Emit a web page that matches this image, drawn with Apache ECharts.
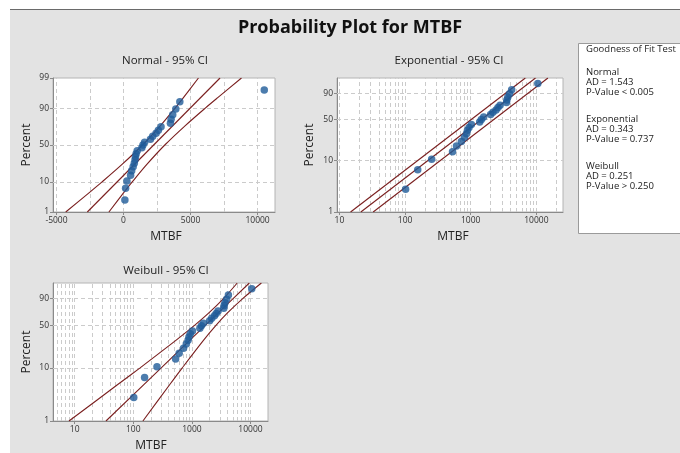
<!DOCTYPE html>
<html><head><meta charset="utf-8">
<script src="https://cdn.jsdelivr.net/npm/echarts@6/dist/echarts.min.js"></script>
<style>html,body{margin:0;padding:0;background:#fff}#c{width:680px;height:453px}</style>
</head><body><div id="c"></div>
<script>
// ---------------- data ----------------
const mtbf = [102, 156, 254, 528, 607, 720, 803, 861, 891, 942, 1023, 1368, 1452, 1574, 2009, 2180, 2430, 2600, 2800, 3500, 3550, 3670, 3900, 4200, 10500];
const percent = [2.8, 6.7, 10.6, 14.6, 18.5, 22.4, 26.4, 30.3, 34.3, 38.2, 42.1, 46.1, 50.0, 53.9, 57.9, 61.8, 65.7, 69.7, 73.6, 77.6, 81.5, 85.4, 89.4, 93.3, 97.2];

// fitted lines and 95% CI bands: [MTBF, percent]
const normalFit  = [[-2700, 1], [7200, 99]];
const normalLow  = [[-4310, 1], [-2530, 5], [-1600, 10], [-110, 25], [1420, 50], [2760, 75], [3850, 90], [4470, 95], [5590, 99]];
const normalHigh = [[-1090, 1], [30, 5], [650, 10], [1740, 25], [3080, 50], [4610, 75], [6100, 90], [7030, 95], [8800, 99]];
const expFit  = [[21.2, 1], [9690, 99]];
const expLow  = [[14.8, 1], [6790, 99]];
const expHigh = [[32.7, 1], [14980, 99]];
const weiFit  = [[34.2, 1], [153, 5], [297, 10], [908, 30], [1675, 50], [2780, 70], [5050, 90], [9550, 99]];
const weiLow  = [[8.0, 1], [55, 5], [129, 10], [527, 30], [1097, 50], [1928, 70], [3459, 90], [5943, 99]];
const weiHigh = [[146, 1], [423, 5], [681, 10], [1563, 30], [2555, 50], [4011, 70], [7362, 90], [15350, 99]];

// tick labels
const normalPctTicks = [1, 10, 50, 90, 99];
const smallPctTicks = [1, 10, 50, 90];
const normalXTicks = [-5000, 0, 5000, 10000];
const logXTicks = [10, 100, 1000, 10000];
const pctGrid = [10, 50, 90];
const normalXGrid = [-5000, -2500, 0, 2500, 5000, 7500, 10000];
const logGrid = [5,6,7,8,9,10,20,30,40,50,60,70,80,90,100,200,300,400,500,600,700,800,900,1000,2000,3000,4000,5000,6000,7000,8000,9000,10000,20000];

const gof = [
  ['Goodness of Fit Test'],
  ['Normal', 'AD = 1.543', 'P-Value < 0.005'],
  ['Exponential', 'AD = 0.343', 'P-Value = 0.737'],
  ['Weibull', 'AD = 0.251', 'P-Value > 0.250']
];

// ---------------- probability scales ----------------
function qnorm(p){
  const a=[-3.969683028665376e+01,2.209460984245205e+02,-2.759285104469687e+02,1.383577518672690e+02,-3.066479806614716e+01,2.506628277459239e+00];
  const b=[-5.447609879822406e+01,1.615858368580409e+02,-1.556989798598866e+02,6.680131188771972e+01,-1.328068155288572e+01];
  const c=[-7.784894002430293e-03,-3.223964580411365e-01,-2.400758277161838e+00,-2.549732539343734e+00,4.374664141464968e+00,2.938163982698783e+00];
  const d=[7.784695709041462e-03,3.224671290700398e-01,2.445134137142996e+00,3.754408661907416e+00];
  const pl=0.02425, ph=1-pl; let q,r;
  if(p<pl){q=Math.sqrt(-2*Math.log(p));return (((((c[0]*q+c[1])*q+c[2])*q+c[3])*q+c[4])*q+c[5])/((((d[0]*q+d[1])*q+d[2])*q+d[3])*q+1);}
  if(p<=ph){q=p-0.5;r=q*q;return (((((a[0]*r+a[1])*r+a[2])*r+a[3])*r+a[4])*r+a[5])*q/(((((b[0]*r+b[1])*r+b[2])*r+b[3])*r+b[4])*r+1);}
  q=Math.sqrt(-2*Math.log(1-p));return -(((((c[0]*q+c[1])*q+c[2])*q+c[3])*q+c[4])*q+c[5])/((((d[0]*q+d[1])*q+d[2])*q+d[3])*q+1);
}
const tNorm = pc => qnorm(pc/100);
const tSev = pc => Math.log(-Math.log(1 - pc/100));

function pctFormatter(ticks, tf){
  return function(v){
    let best = ticks[0], bd = Infinity;
    ticks.forEach(t => { const d = Math.abs(tf(t) - v); if (d < bd) { bd = d; best = t; } });
    return String(best);
  };
}

// ---------------- styling ----------------
const FONT = 'Open Sans';
const lineColor = '#7a1f1f';
const dotColor = '#1f5b98';
const gridColor = '#cbcbcb';
const axisColor = '#8a8a8a';

function xAxisCfg(gi, type, min, max, ticks){
  return {
    gridIndex: gi, type: type, min: min, max: max, logBase: 10,
    axisLine: {show: true, onZero: false, lineStyle: {color: axisColor}},
    axisTick: {show: true, length: 3, customValues: ticks, lineStyle: {color: axisColor}},
    axisLabel: {customValues: ticks, fontSize: 8.5, color: '#333', margin: 4, fontFamily: FONT, formatter: v => String(Math.round(v))},
    splitLine: {show: false}
  };
}
function yAxisCfg(gi, tf, ticks, pmin, pmax){
  const vals = ticks.map(tf);
  return {
    gridIndex: gi, type: 'value', min: tf(pmin), max: tf(pmax),
    axisLine: {show: true, onZero: false, lineStyle: {color: axisColor}},
    axisTick: {show: true, length: 3, customValues: vals, lineStyle: {color: axisColor}},
    axisLabel: {customValues: vals, fontSize: 8.5, color: '#333', margin: 4, fontFamily: FONT, formatter: pctFormatter(ticks, tf)},
    splitLine: {show: false}
  };
}
function gridSeries(gi, xg, yg){
  return {
    type: 'scatter', xAxisIndex: gi, yAxisIndex: gi, data: [], silent: true, z: 1,
    markLine: {
      z: 1, silent: true, symbol: 'none', animation: false, label: {show: false},
      lineStyle: {color: gridColor, type: [4, 3], width: 1},
      data: xg.map(v => ({xAxis: v})).concat(yg.map(v => ({yAxis: v})))
    }
  };
}
function lineSeries(gi, arr, tf, smooth){
  return {
    type: 'line', xAxisIndex: gi, yAxisIndex: gi, data: arr.map(d => [d[0], tf(d[1])]),
    showSymbol: false, smooth: smooth ? 0.3 : false, clip: true, silent: true, z: 3,
    lineStyle: {color: lineColor, width: 1.1}
  };
}
function dotSeries(gi, tf){
  return {
    type: 'scatter', xAxisIndex: gi, yAxisIndex: gi, z: 4,
    data: mtbf.map((v, i) => [v, tf(percent[i])]),
    symbolSize: 7.5, itemStyle: {color: dotColor}
  };
}

const chart = echarts.init(document.getElementById('c'), null, {renderer: 'canvas'});

const texts = [];
function txt(x, y, s, opts, rot){
  const el = {type: 'text', x: x, y: y, style: Object.assign({text: s, fontFamily: FONT, fontSize: 10, fill: '#222', textAlign: 'center', textVerticalAlign: 'middle'}, opts || {})};
  if (rot) el.rotation = rot;
  texts.push(el);
}
// headings
txt(350, 28, 'Probability Plot for MTBF', {fontSize: 18, fontWeight: 'bold', fill: '#111'});
txt(165, 61, 'Normal - 95% CI', {fontSize: 11.5});
txt(449, 61, 'Exponential - 95% CI', {fontSize: 11.5});
txt(166, 271, 'Weibull - 95% CI', {fontSize: 11.5});
txt(166, 237, 'MTBF', {fontSize: 12});
txt(453, 237, 'MTBF', {fontSize: 12});
txt(151, 446, 'MTBF', {fontSize: 12});
txt(27, 145, 'Percent', {fontSize: 12}, Math.PI/2);
txt(310, 145, 'Percent', {fontSize: 12}, Math.PI/2);
txt(27, 352, 'Percent', {fontSize: 12}, Math.PI/2);

// goodness of fit box
const gofEls = [{type: 'rect', shape: {x: 578.5, y: 43.5, width: 120, height: 190}, style: {fill: '#fff', stroke: '#9a9a9a', lineWidth: 1}}];
gofEls.push({type: 'text', x: 586, y: 49, style: {text: gof[0][0], fontFamily: FONT, fontSize: 9.5, fill: '#222', textAlign: 'left', textVerticalAlign: 'middle'}});
let gy = 72;
for (let k = 1; k < gof.length; k++) {
  gof[k].forEach((s, j) => {
    gofEls.push({type: 'text', x: 586, y: gy + j*10, style: {text: s, fontFamily: FONT, fontSize: 9.5, fill: '#222', textAlign: 'left', textVerticalAlign: 'middle'}});
  });
  gy += 47;
}

const option = {
  backgroundColor: '#ffffff',
  animation: false,
  graphic: [
    {type: 'rect', z: -10, shape: {x: 10, y: 10, width: 670, height: 443}, style: {fill: '#e3e3e3'}},
    {type: 'line', z: -9, shape: {x1: 10, y1: 9.5, x2: 680, y2: 9.5}, style: {stroke: '#6a6a6a', lineWidth: 1}}
  ].concat(texts).concat(gofEls),
  grid: [
    {left: 53, top: 78, width: 222, height: 134, show: true, backgroundColor: '#fff', borderColor: '#b4b4b4', borderWidth: 1},
    {left: 337, top: 78, width: 226, height: 134, show: true, backgroundColor: '#fff', borderColor: '#b4b4b4', borderWidth: 1},
    {left: 53, top: 283, width: 215, height: 138, show: true, backgroundColor: '#fff', borderColor: '#b4b4b4', borderWidth: 1}
  ],
  xAxis: [
    xAxisCfg(0, 'value', -5260, 11300, normalXTicks),
    xAxisCfg(1, 'log', 9.2, 25400, logXTicks),
    xAxisCfg(2, 'log', 4.27, 19900, logXTicks)
  ],
  yAxis: [
    yAxisCfg(0, tNorm, normalPctTicks, 1, 99),
    yAxisCfg(1, tSev, smallPctTicks, 1, 99),
    yAxisCfg(2, tSev, smallPctTicks, 1, 99)
  ],
  series: [
    gridSeries(0, normalXGrid, pctGrid.map(tNorm)),
    gridSeries(1, logGrid.filter(v => v > 9.2 && v < 25400), pctGrid.map(tSev)),
    gridSeries(2, logGrid.filter(v => v > 4.27 && v < 19900), pctGrid.map(tSev)),
    lineSeries(0, normalFit, tNorm, false),
    lineSeries(0, normalLow, tNorm, true),
    lineSeries(0, normalHigh, tNorm, true),
    lineSeries(1, expFit, tSev, false),
    lineSeries(1, expLow, tSev, false),
    lineSeries(1, expHigh, tSev, false),
    lineSeries(2, weiFit, tSev, false),
    lineSeries(2, weiLow, tSev, true),
    lineSeries(2, weiHigh, tSev, true),
    dotSeries(0, tNorm),
    dotSeries(1, tSev),
    dotSeries(2, tSev)
  ]
};
chart.setOption(option);
</script></body></html>
